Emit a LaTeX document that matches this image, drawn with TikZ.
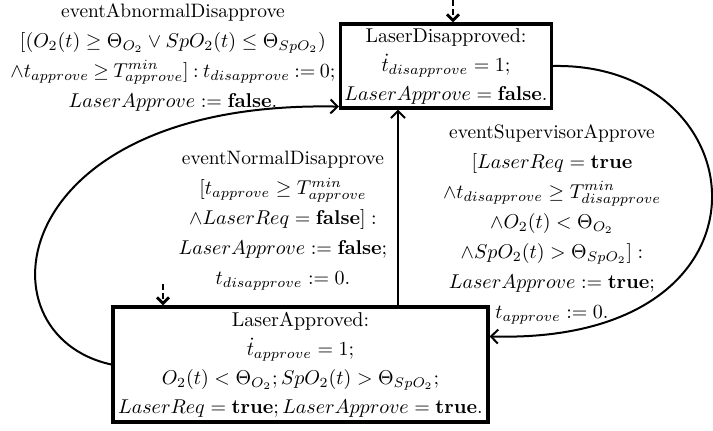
\documentclass[tikz,border=0pt]{standalone}
\usetikzlibrary{arrows.meta}
\begin{document}
\begin{tikzpicture}[x=0.5pt,y=-0.5pt,
  state/.style={draw,line width=1.6pt,inner sep=0pt,align=center,font=\fontsize{10}{14.5}\selectfont},
  lbl/.style={align=center,inner sep=0pt,font=\fontsize{9.7}{15}\selectfont},
  trans/.style={line width=1pt,-{Straight Barb[length=3.5pt,width=7pt]}},
  init/.style={line width=1.4pt,dash pattern=on 3pt off 1.5pt,-{Straight Barb[length=3pt,width=6pt]}}]
\useasboundingbox (0,0) rectangle (713,430);

\node[state,minimum width=105.5pt,minimum height=42pt] (dis) at (446,66)
  {LaserDisapproved:\\ $\dot{t}_{disapprove}=1;$\\ $LaserApprove=\mathbf{false}.$};
\node[state,minimum width=187.5pt,minimum height=57.5pt] (apr) at (300.5,364.5)
  {LaserApproved:\\ $\dot{t}_{approve}=1;$\\ $O_2(t)<\Theta_{O_2};SpO_2(t)>\Theta_{SpO_2};$\\ $LaserReq=\mathbf{true};LaserApprove=\mathbf{true}.$};

\node[lbl] (abn) at (173,57)
  {eventAbnormalDisapprove\\ $[(O_2(t)\geq\Theta_{O_2}\vee SpO_2(t)\leq\Theta_{SpO_2})$\\ $\thickmuskip=4mu \wedge t_{approve}\geq T^{min}_{approve}]:t_{disapprove}:=0;$\\ $LaserApprove:=\mathbf{false}.$};
\node[lbl] (nrm) at (283,221)
  {eventNormalDisapprove\\ $[t_{approve}\geq T^{min}_{approve}$\\ $\wedge LaserReq=\mathbf{false}]:$\\ $LaserApprove:=\mathbf{false};$\\ $t_{disapprove}:=0.$};
\node[lbl] (sup) at (552,224)
  {eventSupervisorApprove\\ $[LaserReq=\mathbf{true}$\\ $\wedge t_{disapprove}\geq T^{min}_{disapprove}$\\ $\wedge O_2(t)<\Theta_{O_2}$\\ $\wedge SpO_2(t)>\Theta_{SpO_2}]:$\\ $LaserApprove:=\mathbf{true};$\\ $t_{approve}:=0.$};

\coordinate (i1) at (453,0);
\coordinate (i2) at (163,284);
\coordinate (vx) at (398,0);
\draw[init] (i1) -- (dis.north -| i1);
\draw[init] (i2) -- (apr.north -| i2);
\draw[trans] (apr.west) .. controls (-25,335) and (5,100) .. ([yshift=1.5pt]dis.south west);
\draw[trans] (apr.north -| vx) -- (dis.south -| vx);
\draw[trans] (dis.east) .. controls (760,62) and (790,345) .. ([yshift=-15.5pt]apr.north east);
\end{tikzpicture}
\end{document}
